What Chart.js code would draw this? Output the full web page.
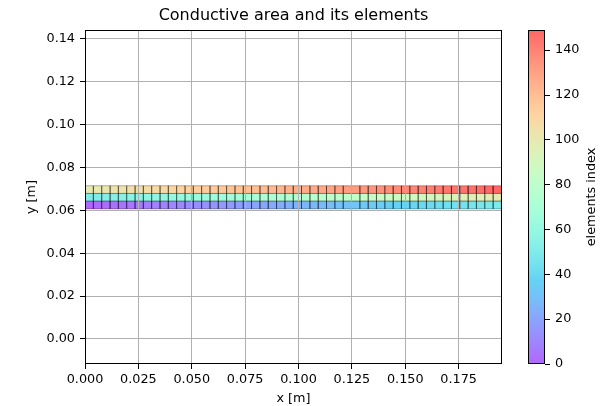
<!DOCTYPE html>
<html>
<head>
<meta charset="utf-8">
<script src="https://cdn.jsdelivr.net/npm/chart.js@4/dist/chart.umd.min.js"></script>
<style>
  html, body { margin: 0; padding: 0; background: #fff; }
  #wrap { position: relative; width: 611px; height: 406px; }
  #main { position: absolute; left: 0; top: 0; }
  #cbar { position: absolute; left: 510px; top: 0; }
</style>
</head>
<body>
<div id="wrap">
  <canvas id="main" width="587" height="406"></canvas>
  <canvas id="cbar" width="101" height="406"></canvas>
</div>
<script>
// element edges along x and y (m)
const xEdges = [0.0000, 0.0039, 0.0078, 0.0117, 0.0156, 0.0195, 0.0234, 0.0273, 0.0312, 0.0351,
  0.0390, 0.0429, 0.0468, 0.0507, 0.0546, 0.0585, 0.0624, 0.0663, 0.0702, 0.0741,
  0.0780, 0.0819, 0.0858, 0.0897, 0.0936, 0.0975, 0.1014, 0.1053, 0.1092, 0.1131,
  0.1170, 0.1209, 0.1248, 0.1287, 0.1326, 0.1365, 0.1404, 0.1443, 0.1482, 0.1521,
  0.1560, 0.1599, 0.1638, 0.1677, 0.1716, 0.1755, 0.1794, 0.1833, 0.1872, 0.1911, 0.1950];
const yEdges = [0.0607, 0.0643, 0.0679, 0.0715];

const xTicks = [0.000, 0.025, 0.050, 0.075, 0.100, 0.125, 0.150, 0.175];
const yTicks = [0.00, 0.02, 0.04, 0.06, 0.08, 0.10, 0.12, 0.14];
const cbTicks = [0, 20, 40, 60, 80, 100, 120, 140];
const indexRange = [0, 149];

const FONT = "'DejaVu Sans', sans-serif";
const TICK_SIZE = 12.8;
Chart.defaults.font.family = FONT;
Chart.defaults.color = "#000";

// matplotlib "rainbow" colormap
function rainbow(t, a) {
  const cl = v => Math.max(0, Math.min(1, v));
  const r = cl(Math.abs(2 * t - 0.5));
  const g = cl(Math.sin(Math.PI * t));
  const b = cl(Math.cos(Math.PI * t / 2));
  return `rgba(${Math.round(r * 255)},${Math.round(g * 255)},${Math.round(b * 255)},${a})`;
}

const nCols = xEdges.length - 1;
const datasets = [];
for (let r = 0; r < yEdges.length - 1; r++) {
  for (let c = 0; c < nCols; c++) {
    const idx = r * nCols + c;
    const x0 = xEdges[c], x1 = xEdges[c + 1];
    const y0 = yEdges[r], y1 = yEdges[r + 1];
    datasets.push({
      data: [{ x: x0, y: y0 }, { x: x1, y: y0 }, { x: x1, y: y1 }, { x: x0, y: y1 }, { x: x0, y: y0 }],
      fill: "shape",
      backgroundColor: rainbow(idx / indexRange[1], 0.6),
      borderColor: "rgba(0,0,0,0.38)",
      borderWidth: 0.8,
      pointRadius: 0,
      tension: 0,
    });
  }
}

// black frame round the plot area
const frame = {
  id: "frame",
  afterDraw(chart) {
    const { ctx, chartArea: a } = chart;
    ctx.save();
    ctx.strokeStyle = "#000";
    ctx.lineWidth = 1;
    ctx.strokeRect(Math.round(a.left) + 0.5, Math.round(a.top) + 0.5,
      Math.round(a.right - a.left) - 1, Math.round(a.bottom - a.top) - 1);
    ctx.restore();
  },
};

// title centred over the plot area, like matplotlib
const plotTitle = {
  id: "plotTitle",
  afterDraw(chart) {
    const { ctx, chartArea: a } = chart;
    ctx.save();
    ctx.font = "16px " + FONT;
    ctx.fillStyle = "#000";
    ctx.textAlign = "center";
    ctx.textBaseline = "middle";
    ctx.fillText("Conductive area and its elements", (a.left + a.right) / 2, 16);
    ctx.restore();
  },
};

new Chart(document.getElementById("main"), {
  type: "line",
  data: { datasets },
  options: {
    responsive: false,
    animation: false,
    devicePixelRatio: 1,
    layout: { padding: { left: 0, right: 85, top: 30, bottom: 0 } },
    plugins: {
      legend: { display: false },
      tooltip: { enabled: false },
    },
    scales: {
      x: {
        type: "linear",
        min: 0,
        max: 0.1953,
        afterBuildTicks: s => { s.ticks = xTicks.map(v => ({ value: v })); },
        afterFit: s => { s.height = 42; },
        ticks: { font: { size: TICK_SIZE }, padding: 3, maxRotation: 0, callback: v => v.toFixed(3) },
        grid: { color: "#b0b0b0", tickColor: "#000", tickLength: 5, z: 1 },
        border: { display: false },
        title: { display: true, text: "x [m]", font: { size: TICK_SIZE }, padding: { top: 0, bottom: 0 } },
      },
      y: {
        type: "linear",
        min: -0.0117,
        max: 0.1442,
        afterBuildTicks: s => { s.ticks = yTicks.map(v => ({ value: v })); },
        afterFit: s => { s.width = 85; },
        ticks: { font: { size: TICK_SIZE }, padding: 5, callback: v => v.toFixed(2) },
        grid: { color: "#b0b0b0", tickColor: "#000", tickLength: 5, z: 1 },
        border: { display: false },
        title: { display: true, text: "y [m]", font: { size: TICK_SIZE }, padding: { top: 24, bottom: 0 } },
      },
    },
  },
  plugins: [frame, plotTitle],
});

// colour bar
const cbTitle = {
  id: "cbTitle",
  afterDraw(chart) {
    const { ctx, chartArea: a } = chart;
    ctx.save();
    ctx.translate(82, (a.top + a.bottom) / 2);
    ctx.rotate(-Math.PI / 2);
    ctx.font = TICK_SIZE + "px " + FONT;
    ctx.fillStyle = "#000";
    ctx.textAlign = "center";
    ctx.textBaseline = "middle";
    ctx.fillText("elements index", 0, 0);
    ctx.restore();
  },
};

new Chart(document.getElementById("cbar"), {
  type: "bar",
  data: {
    labels: [""],
    datasets: [{
      data: [indexRange],
      barPercentage: 1,
      categoryPercentage: 1,
      borderWidth: 0,
      backgroundColor: ctx => {
        const a = ctx.chart.chartArea;
        if (!a) return "transparent";
        const g = ctx.chart.ctx.createLinearGradient(0, a.bottom, 0, a.top);
        for (let i = 0; i <= 20; i++) g.addColorStop(i / 20, rainbow(i / 20, 0.6));
        return g;
      },
    }],
  },
  options: {
    responsive: false,
    animation: false,
    devicePixelRatio: 1,
    layout: { padding: { left: 18, right: 0, top: 30, bottom: 42 } },
    plugins: { legend: { display: false }, tooltip: { enabled: false } },
    scales: {
      x: { display: false },
      y: {
        position: "right",
        min: indexRange[0],
        max: indexRange[1],
        afterBuildTicks: s => { s.ticks = cbTicks.map(v => ({ value: v })); },
        afterFit: s => { s.width = 66; },
        ticks: { font: { size: TICK_SIZE }, padding: 5 },
        grid: { drawOnChartArea: false, tickColor: "#000", tickLength: 5 },
        border: { display: false },
      },
    },
  },
  plugins: [frame, cbTitle],
});
</script>
</body>
</html>
